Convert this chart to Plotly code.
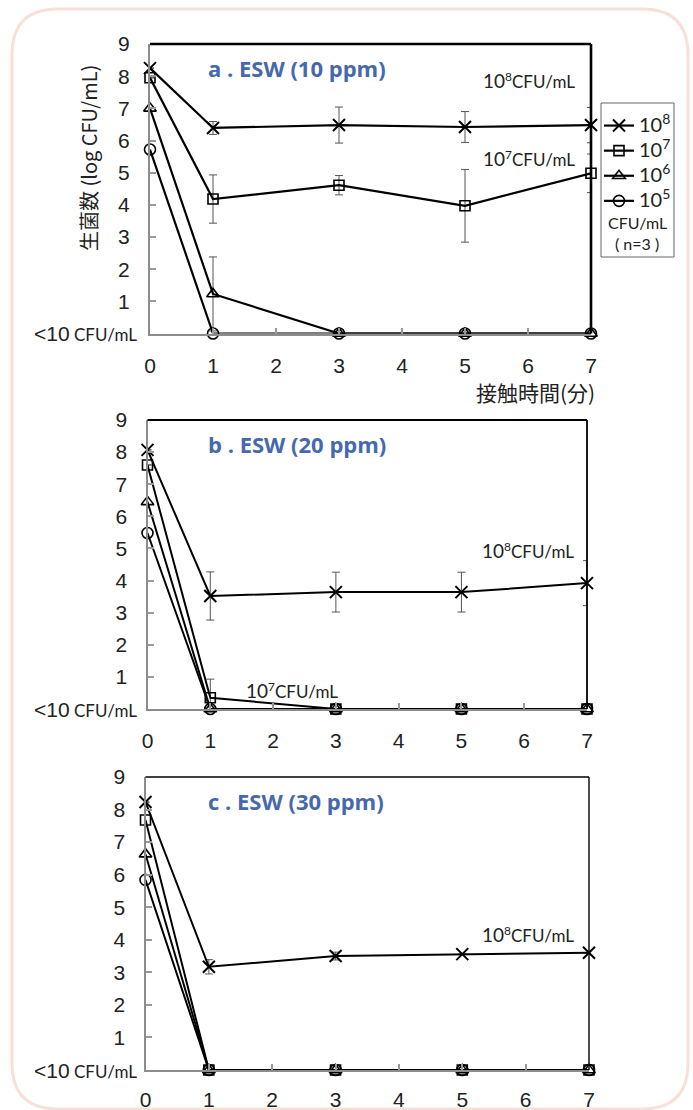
import plotly.graph_objects as go

W, H = 693, 1110

# ---------------- data ----------------
times = [0, 1, 3, 5, 7]
series_names = ["10<sup>8</sup>", "10<sup>7</sup>", "10<sup>6</sup>", "10<sup>5</sup>"]
panel_titles = ["a . ESW (10 ppm)", "b . ESW (20 ppm)", "c . ESW (30 ppm)"]
y_tick_vals = [1, 2, 3, 4, 5, 6, 7, 8, 9]
x_tick_vals = [0, 1, 2, 3, 4, 5, 6, 7]
y_title = "生菌数 (log CFU/mL)"
x_title = "接触時間(分)"

# panel a: ESW 10 ppm
a_1e8 = [8.25, 6.39, 6.48, 6.42, 6.48]
a_1e8_err = [0, 0.2, 0.56, 0.48, 0.55]
a_1e7 = [7.95, 4.18, 4.61, 3.97, 4.98]
a_1e7_err = [0, 0.75, 0.3, 1.13, 0.6]
a_1e6 = [7.0, 1.23, 0, 0, 0]
a_1e6_err = [0, 1.15, 0, 0, 0]
a_1e5 = [5.72, 0, 0, 0, 0]
a_1e5_err = [0, 0, 0, 0, 0]

# panel b: ESW 20 ppm
b_1e8 = [8.07, 3.52, 3.64, 3.64, 3.92]
b_1e8_err = [0, 0.75, 0.62, 0.62, 0.7]
b_1e7 = [7.6, 0.35, 0, 0, 0]
b_1e7_err = [0, 0.58, 0, 0, 0]
b_1e6 = [6.45, 0, 0, 0, 0]
b_1e6_err = [0, 0, 0, 0, 0]
b_1e5 = [5.48, 0, 0, 0, 0]
b_1e5_err = [0, 0, 0, 0, 0]

# panel c: ESW 30 ppm
c_1e8 = [8.23, 3.17, 3.5, 3.56, 3.6]
c_1e8_err = [0, 0.22, 0.12, 0, 0]
c_1e7 = [7.68, 0, 0, 0, 0]
c_1e7_err = [0, 0, 0, 0, 0]
c_1e6 = [6.63, 0, 0, 0, 0]
c_1e6_err = [0, 0, 0, 0, 0]
c_1e5 = [5.84, 0, 0, 0, 0]
c_1e5_err = [0, 0, 0, 0, 0]

panels = [
    [(a_1e8, a_1e8_err), (a_1e7, a_1e7_err), (a_1e6, a_1e6_err), (a_1e5, a_1e5_err)],
    [(b_1e8, b_1e8_err), (b_1e7, b_1e7_err), (b_1e6, b_1e6_err), (b_1e5, b_1e5_err)],
    [(c_1e8, c_1e8_err), (c_1e7, c_1e7_err), (c_1e6, c_1e6_err), (c_1e5, c_1e5_err)],
]

# ---------------- layout helpers ----------------
def PX(px):
    return px / W

def PY(py):
    return 1 - py / H

# plot-area pixel boxes: (left, right, top, bottom)
boxes = [(150, 591, 44, 333.5), (147.5, 587, 420, 709), (145.5, 589, 777, 1070)]
border_w = [2.6, 1.8, 1.4]
line_w = [2.2, 2.0, 2.0]
x_standoff = [12, 12, 10]

symbols = ["x-thin-open", "square-open", "triangle-up-open", "circle-open"]
msizes = [12, 10, 11, 11]

NUM_FONT = "Liberation Sans, Arial, sans-serif"
CAL_FONT = "Lato, Open Sans, sans-serif"
TITLE_FONT = "Open Sans, Lato, sans-serif"
JP_FONT = "Noto Sans CJK JP, sans-serif"
TITLE_BLUE = "#4568ae"

fig = go.Figure()

for p, (box, series) in enumerate(zip(boxes, panels)):
    xa = "x" if p == 0 else f"x{p+1}"
    ya = "y" if p == 0 else f"y{p+1}"
    for s, ((vals, errs), name) in enumerate(zip(series, series_names)):
        has_err = any(e > 0 for e in errs)
        fig.add_trace(go.Scatter(
            x=times, y=vals,
            name=f"<span style='font-size:20px'>{name}</span>",
            xaxis=xa, yaxis=ya,
            mode="lines+markers",
            line=dict(color="black", width=line_w[p]),
            marker=dict(symbol=symbols[s], size=msizes[s], color="black",
                        line=dict(color="black", width=1.6 if s else 2)),
            error_y=dict(type="data", array=errs, visible=has_err,
                         color="#555555", thickness=1, width=4),
            cliponaxis=False,
            showlegend=(p == 0),
        ))

layout_axes = {}
for p, (l, r, t, b) in enumerate(boxes):
    sx = "xaxis" if p == 0 else f"xaxis{p+1}"
    sy = "yaxis" if p == 0 else f"yaxis{p+1}"
    ya = "y" if p == 0 else f"y{p+1}"
    xa = "x" if p == 0 else f"x{p+1}"
    layout_axes[sx] = dict(
        domain=[PX(l), PX(r)], range=[0, 7], anchor=ya, automargin=False,
        tickvals=x_tick_vals, ticks="inside", ticklen=6, tickcolor="#999999",
        tickwidth=1.5, showline=True, linecolor="#8c8c8c", linewidth=2,
        showgrid=False, zeroline=False, ticklabelstandoff=x_standoff[p],
        tickfont=dict(family=NUM_FONT, size=21, color="#222222"),
    )
    layout_axes[sy] = dict(
        domain=[PY(b), PY(t)], range=[0, 9], anchor=xa, automargin=False,
        tickvals=y_tick_vals, ticks="inside", ticklen=6, tickcolor="#999999",
        tickwidth=1.5, showline=True, linecolor="#8c8c8c", linewidth=2,
        showgrid=False, zeroline=False, ticklabelstandoff=14,
        tickfont=dict(family=NUM_FONT, size=21, color="#222222"),
    )

fig.update_layout(template="none")
fig.update_layout(**layout_axes)

shapes = []
annotations = []

# outer rounded frame
fl, fr, ft, fb, rad = 12, 688, 9, 1109, 46
path = (f"M {PX(fl+rad)},{PY(ft)} L {PX(fr-rad)},{PY(ft)} "
        f"Q {PX(fr)},{PY(ft)} {PX(fr)},{PY(ft+rad)} "
        f"L {PX(fr)},{PY(fb-rad)} Q {PX(fr)},{PY(fb)} {PX(fr-rad)},{PY(fb)} "
        f"L {PX(fl+rad)},{PY(fb)} Q {PX(fl)},{PY(fb)} {PX(fl)},{PY(fb-rad)} "
        f"L {PX(fl)},{PY(ft+rad)} Q {PX(fl)},{PY(ft)} {PX(fl+rad)},{PY(ft)} Z")
shapes.append(dict(type="path", xref="paper", yref="paper", path=path,
                   line=dict(color="#f7e0d6", width=3), layer="below"))

for p, (l, r, t, b) in enumerate(boxes):
    # top and right black border
    shapes.append(dict(type="line", xref="paper", yref="paper",
                       x0=PX(l), x1=PX(r), y0=PY(t), y1=PY(t),
                       line=dict(color="black", width=border_w[p])))
    shapes.append(dict(type="line", xref="paper", yref="paper",
                       x0=PX(r), x1=PX(r), y0=PY(t), y1=PY(b),
                       line=dict(color="black", width=border_w[p])))
    # "<10 CFU/mL" label at zero
    annotations.append(dict(
        xref="paper", yref="paper", x=PX(139), y=PY(b), xanchor="right", yanchor="middle",
        showarrow=False,
        text=(f"<span style='font-family:{NUM_FONT};font-size:21px'>&lt;10</span>"
              f"<span style='font-family:{CAL_FONT};font-size:17px'> CFU/mL</span>"),
        font=dict(color="#222222", size=17)))
    # panel title
    annotations.append(dict(
        xref="paper", yref="paper", x=PX(206), y=PY(t + 24), xanchor="left", yanchor="middle",
        showarrow=False, text=f"<b>{panel_titles[p]}</b>",
        font=dict(family=TITLE_FONT, size=22, color=TITLE_BLUE)))

def cfu_label(xc, yc, e):
    return dict(xref="paper", yref="paper", x=PX(xc), y=PY(yc), xanchor="center",
                yanchor="middle", showarrow=False,
                text=f"<span style='font-size:19px'>10</span><sup>{e}</sup>CFU/mL",
                font=dict(family=CAL_FONT, size=17, color="#222222"))

for (xc, yc, e) in [(529, 80, "8"), (529, 158, "7"), (528, 550, "8"),
                    (292, 690, "7"), (528, 935, "8")]:
    annotations.append(cfu_label(xc, yc, e))

# axis titles (panel a only)
annotations.append(dict(xref="paper", yref="paper", x=PX(88), y=PY(158),
                        xanchor="center", yanchor="middle", textangle=-90,
                        showarrow=False, text=y_title,
                        font=dict(family=JP_FONT, size=20, color="#222222")))
annotations.append(dict(xref="paper", yref="paper", x=PX(535), y=PY(392),
                        xanchor="center", yanchor="middle",
                        showarrow=False, text=x_title,
                        font=dict(family=JP_FONT, size=21, color="#222222")))

# legend box and extra lines
shapes.append(dict(type="rect", xref="paper", yref="paper",
                   x0=PX(601), x1=PX(674), y0=PY(103), y1=PY(257),
                   line=dict(color="#666666", width=1), fillcolor="white", layer="below"))
annotations.append(dict(xref="paper", yref="paper", x=PX(637), y=PY(223),
                        xanchor="center", yanchor="middle", showarrow=False,
                        text="CFU/mL", font=dict(family=CAL_FONT, size=16, color="#222222")))
annotations.append(dict(xref="paper", yref="paper", x=PX(637), y=PY(244),
                        xanchor="center", yanchor="middle", showarrow=False,
                        text="( n=3 )", font=dict(family=CAL_FONT, size=16, color="#222222")))

fig.update_layout(
    width=W, height=H, autosize=False,
    margin=dict(l=0, r=0, t=0, b=0, pad=0),
    paper_bgcolor="white", plot_bgcolor="rgba(0,0,0,0)",
    shapes=shapes, annotations=annotations,
    showlegend=True,
    legend=dict(x=PX(599), y=PY(108), xanchor="left", yanchor="top",
                bgcolor="rgba(0,0,0,0)", borderwidth=0,
                font=dict(family=CAL_FONT, size=17, color="#222222"),
                itemwidth=30, tracegroupgap=0),
)

fig.write_html("out.html", config={"displayModeBar": False},
               post_script="document.body.style.margin='0';document.body.style.overflow='hidden';")
